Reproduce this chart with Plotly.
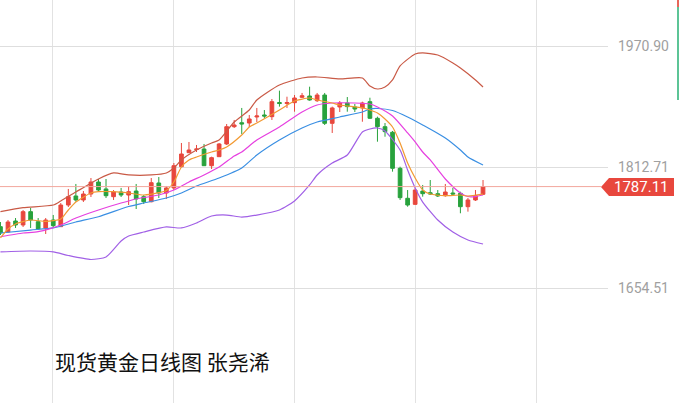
import plotly.graph_objects as go

# ---------------- data ----------------
candle_idx = list(range(65))
opens = [1734.7, 1727.7, 1742.1, 1736.9, 1754.3, 1741.2, 1733.0, 1743.4, 1734.7, 1763.0,
         1774.8, 1769.6, 1777.4, 1793.1, 1784.0, 1773.9, 1780.0, 1776.1, 1781.3, 1773.9,
         1767.3, 1791.8, 1778.7, 1785.3, 1813.1, 1831.4, 1835.6, 1836.2, 1814.4, 1826.2,
         1842.8, 1865.4, 1870.6, 1870.2, 1878.1, 1880.7, 1878.5, 1897.0, 1895.7, 1896.8,
         1903.8, 1905.5, 1899.4, 1906.8, 1869.8, 1891.2, 1896.4, 1891.2, 1889.9, 1898.1,
         1876.4, 1865.4, 1858.1, 1811.0, 1771.8, 1763.9, 1781.3, 1779.1, 1777.8, 1775.2,
         1778.7, 1778.3, 1760.8, 1769.6, 1777.0]
highs = [1740.8, 1743.4, 1746.0, 1756.5, 1759.1, 1746.0, 1746.0, 1750.0, 1765.6, 1784.0,
         1790.5, 1781.3, 1798.3, 1797.0, 1797.0, 1782.6, 1785.3, 1787.0, 1790.5, 1776.1,
         1798.3, 1799.6, 1787.9, 1817.9, 1844.1, 1845.4, 1841.5, 1842.8, 1826.2, 1844.1,
         1868.9, 1874.2, 1889.9, 1880.7, 1889.9, 1887.2, 1901.6, 1912.5, 1904.6, 1906.8,
         1909.5, 1917.7, 1909.5, 1909.5, 1891.6, 1899.0, 1904.2, 1895.1, 1898.1, 1903.3,
         1878.5, 1870.2, 1859.8, 1813.1, 1782.6, 1785.3, 1789.2, 1795.7, 1782.6, 1790.5,
         1785.3, 1780.4, 1772.2, 1782.6, 1795.7]
lows = [1723.8, 1726.4, 1733.0, 1734.3, 1733.0, 1730.3, 1725.1, 1733.0, 1734.3, 1760.4,
        1767.3, 1767.0, 1773.5, 1780.0, 1772.2, 1769.6, 1773.5, 1763.0, 1757.8, 1764.3,
        1766.5, 1772.2, 1770.9, 1782.6, 1812.5, 1831.0, 1832.3, 1814.0, 1810.1, 1825.8,
        1841.5, 1863.7, 1855.9, 1865.0, 1871.5, 1876.8, 1874.2, 1891.6, 1889.9, 1885.0,
        1902.9, 1899.4, 1897.7, 1867.6, 1857.2, 1884.6, 1885.0, 1884.6, 1871.9, 1875.5,
        1845.8, 1852.3, 1806.6, 1769.6, 1760.8, 1763.0, 1773.9, 1776.1, 1773.5, 1773.9,
        1776.1, 1752.2, 1754.3, 1768.3, 1776.1]
closes = [1726.4, 1740.8, 1736.9, 1754.3, 1743.4, 1731.7, 1743.4, 1736.0, 1763.0, 1773.9,
          1769.6, 1777.4, 1793.1, 1782.6, 1775.2, 1780.0, 1776.1, 1780.4, 1770.9, 1767.3,
          1792.2, 1778.7, 1785.3, 1814.4, 1829.7, 1834.9, 1836.2, 1814.4, 1824.9, 1842.8,
          1865.4, 1867.6, 1868.9, 1875.5, 1879.4, 1879.4, 1898.1, 1895.7, 1897.0, 1902.9,
          1905.9, 1900.3, 1906.8, 1869.8, 1889.9, 1896.4, 1891.6, 1888.5, 1896.4, 1876.4,
          1865.4, 1858.9, 1811.0, 1772.6, 1763.0, 1782.6, 1777.8, 1777.4, 1774.8, 1780.0,
          1777.4, 1760.8, 1769.6, 1775.2, 1787.1]

# Bollinger upper band
boll_up_idx = [0, 3, 7, 8, 10, 13, 15, 17, 20, 22, 23, 24, 26, 28, 29, 31, 33, 34, 37, 40,
               42, 45, 48, 49, 50, 51, 52, 53, 55, 56, 58, 60, 61, 63, 64]
boll_up = [1754.3, 1759.5, 1763.0, 1768.3, 1780.0, 1797.0, 1804.9, 1802.3, 1802.3, 1804.9,
           1811.4, 1821.9, 1834.9, 1844.1, 1848.0, 1871.5, 1887.2, 1900.3, 1919.9, 1929.1,
           1930.4, 1927.8, 1929.1, 1918.6, 1914.7, 1917.3, 1926.5, 1944.8, 1960.4, 1961.8,
           1959.1, 1948.7, 1942.1, 1926.5, 1917.3]
# short moving average (orange)
ma5_idx = [0, 1, 2, 4, 6, 8, 9, 10, 12, 13, 15, 17, 19, 21, 22, 23, 24, 25, 26, 28, 29, 30,
           32, 33, 34, 37, 39, 41, 42, 44, 45, 48, 49, 50, 51, 52, 53, 54, 55, 56, 57, 59,
           61, 62, 64]
ma5 = [1719.9, 1731.6, 1738.2, 1743.4, 1741.5, 1744.7, 1756.5, 1766.9, 1778.7, 1780.4,
       1780.4, 1778.7, 1776.1, 1779.1, 1782.0, 1793.1, 1812.7, 1821.9, 1825.8, 1832.3,
       1834.9, 1838.9, 1854.5, 1865.0, 1870.2, 1887.2, 1899.0, 1902.9, 1900.3, 1896.4,
       1893.8, 1889.9, 1887.2, 1883.3, 1875.5, 1865.0, 1844.1, 1817.9, 1798.3, 1782.6,
       1777.4, 1775.2, 1776.1, 1774.8, 1777.4]
# medium moving average (magenta)
ma10_idx = [0, 3, 5, 8, 10, 13, 16, 18, 21, 23, 25, 27, 29, 31, 32, 34, 37, 40, 42, 44,
            47, 49, 50, 52, 54, 55, 56, 57, 59, 61, 62, 63, 64]
ma10 = [1721.6, 1726.4, 1728.1, 1736.9, 1746.0, 1756.5, 1765.6, 1770.9, 1776.1, 1782.6,
        1793.1, 1802.3, 1812.7, 1827.1, 1832.3, 1848.0, 1865.0, 1884.6, 1893.8, 1896.4,
        1896.4, 1895.1, 1891.2, 1879.4, 1857.2, 1845.4, 1832.3, 1821.9, 1797.0, 1778.7,
        1774.1, 1774.1, 1776.1]
# middle band (blue)
mid_idx = [0, 4, 7, 10, 13, 17, 19, 22, 24, 26, 29, 32, 34, 37, 40, 42, 45, 48, 49, 50,
           52, 54, 56, 59, 61, 62, 64]
mid = [1726.4, 1730.3, 1733.0, 1740.8, 1747.7, 1761.1, 1765.6, 1772.2, 1778.7, 1787.9,
       1798.3, 1811.4, 1828.4, 1848.0, 1863.7, 1871.5, 1878.1, 1884.6, 1888.5, 1889.2,
       1886.6, 1878.1, 1867.6, 1850.6, 1834.9, 1825.8, 1815.3]
# Bollinger lower band (purple)
boll_dn_idx = [0, 4, 7, 9, 12, 14, 16, 17, 19, 22, 24, 26, 28, 30, 32, 34, 37, 39, 41, 42,
               44, 46, 48, 49, 50, 51, 53, 54, 55, 56, 58, 60, 62, 64]
boll_dn = [1701.8, 1702.9, 1701.8, 1697.0, 1691.8, 1695.1, 1716.0, 1722.5, 1727.7, 1734.3,
           1733.0, 1739.5, 1748.6, 1749.9, 1747.3, 1749.9, 1756.5, 1768.3, 1789.2, 1802.3,
           1817.9, 1828.4, 1858.5, 1862.4, 1863.7, 1859.8, 1834.9, 1808.8, 1785.3, 1766.9,
           1743.4, 1727.7, 1717.3, 1712.0]

axis_labels = [1970.90, 1812.71, 1654.51]
last_price = 1787.11
title_text = "现货黄金日线图 张尧浠"

# ---------------- layout geometry ----------------
W, H = 679, 403
PLOT_W = 608
PX_PER_CANDLE = 7.54
X0 = -0.061
y_lo, y_hi = 1504.16, 2031.04

def px_x(p):
    return p / PLOT_W

def px_y(p):
    return 1 - p / H

RED = "#e8473d"
GREEN = "#28a23c"

fig = go.Figure()

fig.add_trace(go.Candlestick(
    x=candle_idx, open=opens, high=highs, low=lows, close=closes,
    increasing=dict(line=dict(color=RED, width=1), fillcolor=RED),
    decreasing=dict(line=dict(color=GREEN, width=1), fillcolor=GREEN),
    whiskerwidth=0, showlegend=False, hoverinfo="skip",
))

line_specs = [
    (boll_up_idx, boll_up, "#c95a46"),
    (mid_idx, mid, "#3a8fe3"),
    (boll_dn_idx, boll_dn, "#a160e6"),
    (ma10_idx, ma10, "#e640e0"),
    (ma5_idx, ma5, "#f29a33"),
]
for xs, ys, col in line_specs:
    fig.add_trace(go.Scatter(
        x=xs, y=ys, mode="lines",
        line=dict(color=col, width=1.2, shape="spline", smoothing=0.6),
        showlegend=False, hoverinfo="skip",
    ))

grid_x = [6.85 + 16.05 * k for k in range(5)]

fig.update_layout(
    width=W, height=H, autosize=False,
    margin=dict(l=0, r=W - PLOT_W, t=0, b=0, pad=0),
    paper_bgcolor="white", plot_bgcolor="white",
    xaxis=dict(range=[X0, X0 + PLOT_W / PX_PER_CANDLE], tickvals=grid_x,
               showticklabels=False, showgrid=True, gridcolor="#e2e2e2", gridwidth=1,
               zeroline=False, rangeslider=dict(visible=False), fixedrange=True),
    yaxis=dict(range=[y_lo, y_hi], tickvals=axis_labels, showticklabels=False,
               showgrid=True, gridcolor="#dedede", gridwidth=1, zeroline=False,
               fixedrange=True),
    font=dict(family="Roboto, Liberation Sans, sans-serif"),
)

# right side price labels
for v in axis_labels:
    fig.add_annotation(x=1, y=v, xref="paper", yref="y", text=f"{v:.2f}",
                       showarrow=False, xanchor="left", yanchor="middle", xshift=8,
                       font=dict(size=14, color="#a0a0a0",
                                 family="Roboto, Liberation Sans, sans-serif"))

# last price line and tag
tip_px = 601
fig.add_shape(type="line", xref="paper", yref="y", x0=0, x1=px_x(tip_px),
              y0=last_price, y1=last_price, line=dict(color="#f2a89e", width=1))
tag_top, tag_bot, tag_mid = 178, 196, 187
fig.add_shape(type="path", xref="paper", yref="paper",
              path=(f"M {px_x(tip_px)} {px_y(tag_mid)} L {px_x(609)} {px_y(tag_top)} "
                    f"L {px_x(674)} {px_y(tag_top)} L {px_x(674)} {px_y(tag_bot)} "
                    f"L {px_x(609)} {px_y(tag_bot)} Z"),
              fillcolor=RED, line=dict(width=0))
fig.add_annotation(x=px_x(641), y=last_price, xref="paper", yref="y",
                   text=f"{last_price:.2f}", showarrow=False,
                   xanchor="center", yanchor="middle",
                   font=dict(size=15, color="white",
                             family="Roboto, Liberation Sans, sans-serif"))

# decorative edge stripe from the background picture
fig.add_shape(type="rect", xref="paper", yref="paper", x0=px_x(677), x1=px_x(680),
              y0=px_y(100), y1=px_y(7), fillcolor="#5cc496", line=dict(width=0))
fig.add_shape(type="rect", xref="paper", yref="paper", x0=px_x(677), x1=px_x(680),
              y0=px_y(7), y1=px_y(0), fillcolor="#e8675a", line=dict(width=0))

# caption
fig.add_annotation(x=px_x(53), y=px_y(361), xref="paper", yref="paper", text=title_text,
                   showarrow=False, xanchor="left", yanchor="middle",
                   font=dict(size=21, color="#111111", family="Noto Sans CJK SC"))

fig.write_html(
    "out.html",
    config={"displayModeBar": False, "staticPlot": True},
    post_script="document.body.style.margin='0';document.body.style.overflow='hidden';",
)
